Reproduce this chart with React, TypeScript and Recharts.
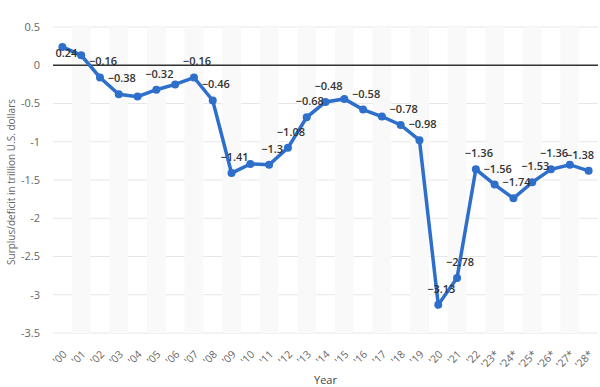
import React from "react";
import {
  LineChart,
  Line,
  XAxis,
  YAxis,
  CartesianGrid,
  ReferenceLine,
  ReferenceArea,
  LabelList,
  Label,
} from "recharts";

const years = [
  "'00", "'01", "'02", "'03", "'04", "'05", "'06", "'07", "'08", "'09",
  "'10", "'11", "'12", "'13", "'14", "'15", "'16", "'17", "'18", "'19",
  "'20", "'21", "'22", "'23*", "'24*", "'25*", "'26*", "'27*", "'28*",
];

const balance = [
  0.24, 0.13, -0.16, -0.38, -0.41, -0.32, -0.25, -0.16, -0.46, -1.41,
  -1.29, -1.3, -1.08, -0.68, -0.48, -0.44, -0.58, -0.67, -0.78, -0.98,
  -3.13, -2.78, -1.36, -1.56, -1.74, -1.53, -1.36, -1.3, -1.38,
];

const showLabel = [
  true, false, true, true, false, true, false, true, true, true,
  false, true, true, true, true, false, true, false, true, true,
  true, true, true, true, true, true, true, false, true,
];

const yTicks = [0.5, 0, -0.5, -1, -1.5, -2, -2.5, -3, -3.5];

const data = years.map((y, i) => ({ i, year: y, value: balance[i] }));

const FONT = "'Open Sans', sans-serif";

const fmt = (v: number) => (v < 0 ? "\u2212" + Math.abs(v) : String(v));

const XTick = (props: any) => {
  const { x, y, payload } = props;
  const ax = x + 5;
  const ay = y + 14;
  return (
    <text
      x={ax}
      y={ay}
      transform={`rotate(-45 ${ax} ${ay})`}
      textAnchor="end"
      fontSize={10.5}
      fontFamily={FONT}
      fill="#666"
    >
      {years[payload.value]}
    </text>
  );
};

const PointLabel = (props: any) => {
  const { x, y, index } = props;
  if (!showLabel[index]) return null;
  const below = index === 0;
  let lx = x + (below ? 4 : 3);
  if (lx > 580) lx = 580;
  return (
    <text
      x={lx}
      y={below ? y + 10 : y - 12}
      textAnchor="middle"
      fontSize={11}
      fontWeight={600}
      fontFamily={FONT}
      fill="#333"
    >
      {fmt(balance[index])}
    </text>
  );
};

export default function App() {
  return (
    <div style={{ position: "absolute", left: 0, top: 0, background: "#fff" }}>
      <LineChart
        width={600}
        height={387}
        data={data}
        margin={{ top: 27, right: 2, bottom: 0, left: 0 }}
      >
        {years.map((_, i) =>
          i % 2 === 1 ? (
            <ReferenceArea
              key={"band" + i}
              x1={i - 0.5}
              x2={i + 0.5}
              y1={-3.5}
              y2={0.5}
              fill="#f9f9f9"
              fillOpacity={1}
              stroke="none"
              ifOverflow="hidden"
            />
          ) : null
        )}
        <CartesianGrid vertical={false} stroke="#e6e6e6" strokeWidth={1} />
        <XAxis
          dataKey="i"
          type="number"
          domain={[-0.5, 28.5]}
          ticks={years.map((_, i) => i)}
          interval={0}
          tick={<XTick />}
          tickLine={false}
          axisLine={false}
          height={54}
        >
          <Label
            value="Year"
            position="insideBottom"
            offset={3}
            fontSize={11}
            fontFamily={FONT}
            fill="#444"
          />
        </XAxis>
        <YAxis
          domain={[-3.5, 0.5]}
          ticks={yTicks}
          interval={0}
          width={53}
          tickLine={false}
          axisLine={false}
          tickSize={0}
          tickMargin={13}
          tick={{ fontSize: 11, fill: "#666", fontFamily: FONT }}
        >
          <Label
            content={() => (
              <text
                x={11}
                y={182}
                transform="rotate(-90 11 182)"
                textAnchor="middle"
                dominantBaseline="central"
                fontSize={10}
                fontFamily={FONT}
                fill="#666"
              >
                Surplus/deficit in trillion U.S. dollars
              </text>
            )}
          />
        </YAxis>
        <ReferenceLine y={0} stroke="#333" strokeWidth={1.5} />
        <Line
          type="linear"
          dataKey="value"
          stroke="#2e6fcb"
          strokeWidth={3.5}
          dot={{ r: 4, fill: "#2e6fcb", stroke: "#2e6fcb", strokeWidth: 0 }}
          activeDot={false}
          isAnimationActive={false}
        >
          <LabelList dataKey="value" content={<PointLabel />} />
        </Line>
      </LineChart>
    </div>
  );
}
